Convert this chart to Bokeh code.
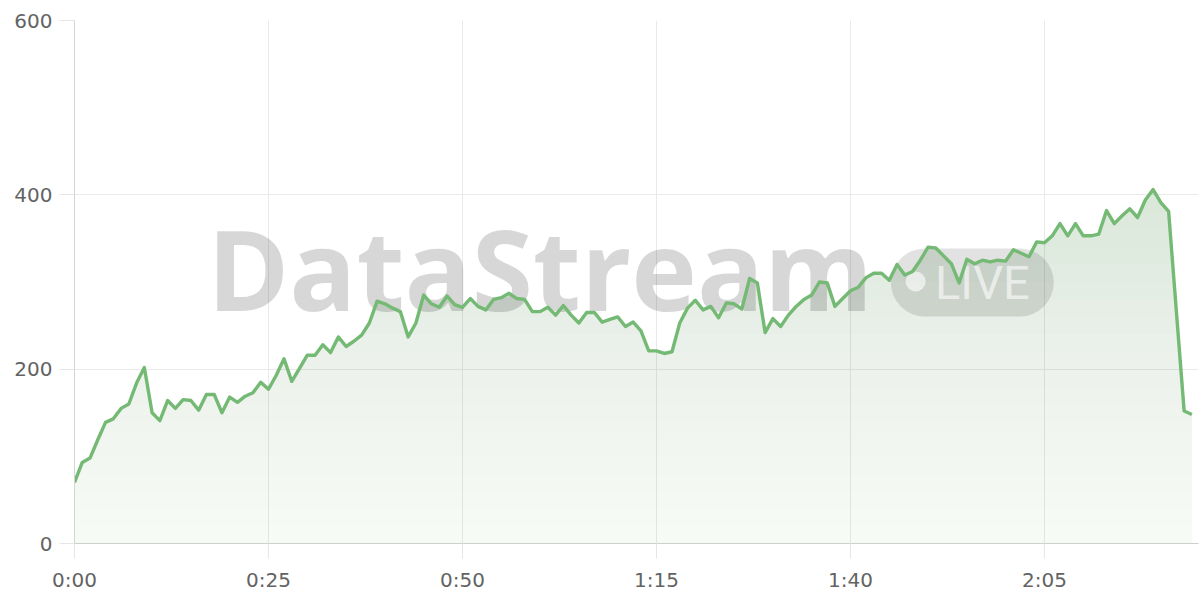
import numpy as np
from bokeh.plotting import figure
from bokeh.models import Range1d, FixedTicker
from bokeh.core.properties import value
from bokeh.embed import file_html
from bokeh.resources import INLINE

# ---- data (one value per minute) ----
minutes = list(range(145))
values = [
    70, 93, 98, 119, 139, 143, 155, 160, 184, 202,
    150, 141, 164, 155, 165, 164, 153, 171, 171, 150,
    168, 162, 169, 173, 185, 177, 193, 212, 186, 201,
    216, 216, 228, 219, 237, 226, 232, 239, 253, 278,
    275, 270, 266, 237, 253, 285, 275, 271, 284, 274,
    271, 281, 272, 268, 280, 282, 287, 281, 280, 266,
    266, 271, 262, 273, 262, 253, 265, 265, 254, 257,
    260, 249, 254, 244, 221, 221, 218, 220, 253, 270,
    279, 268, 272, 259, 276, 275, 269, 304, 299, 242,
    258, 249, 262, 272, 280, 285, 300, 299, 272, 281,
    290, 294, 305, 310, 310, 302, 320, 308, 312, 325,
    340, 339, 330, 321, 299, 326, 321, 325, 323, 325,
    324, 337, 333, 329, 346, 345, 353, 367, 353, 367,
    353, 353, 355, 382, 367, 376, 384, 374, 394, 406,
    391, 381, 266, 152, 148,
]
x_ticks = [0, 25, 50, 75, 100, 125]
x_tick_labels = ["0:00", "0:25", "0:50", "1:15", "1:40", "2:05"]
y_ticks = [0, 200, 400, 600]

GREEN = (115, 185, 115)
FONT = "DejaVu Sans"

p = figure(width=1200, height=600, x_range=Range1d(0, 144.85), y_range=Range1d(0, 600),
           output_backend="svg", toolbar_location=None,
           min_border_left=74, min_border_right=2, min_border_top=20, min_border_bottom=57)
p.outline_line_color = None
p.background_fill_color = "white"
p.border_fill_color = "white"

# ---- gradient area fill (stacked layers) ----
xa = np.array(minutes, dtype=float)
ya = np.array(values, dtype=float)

def layer(h):
    xs, ys = [], []
    for j in range(len(xa) - 1):
        xs.append(xa[j]); ys.append(ya[j])
        if (ya[j] - h) * (ya[j + 1] - h) < 0:
            t = (h - ya[j]) / (ya[j + 1] - ya[j])
            xs.append(xa[j] + t * (xa[j + 1] - xa[j])); ys.append(h)
    xs.append(xa[-1]); ys.append(ya[-1])
    return np.array(xs), np.maximum(np.array(ys), h)

def cov(v):
    return 0.06 + 0.00042 * v

levels = list(range(0, 420, 20))
prev = 0.0
for h in levels:
    c = cov(h + 10)
    a = 1 - (1 - c) / (1 - prev)
    prev = c
    xs, y2 = layer(h)
    p.varea(x=xs, y1=h, y2=y2, fill_color=GREEN, fill_alpha=a)

# ---- watermark ----
p.text(x=[17.1], y=[316], text=["DataStream"], text_font=value("Open Sans"),
       text_font_style="bold", text_font_size="111px", text_color="black", text_alpha=0.155,
       text_baseline="alphabetic", text_align="left")
p.quad(left=[105.2], right=[126.2], bottom=[260.4], top=[338.4], border_radius=34,
       fill_color="black", fill_alpha=0.115, line_color=None)
p.scatter(x=[108.4], y=[300.6], size=20, marker="circle", fill_color="white",
          fill_alpha=0.6, line_color=None)
p.text(x=[110.9], y=[299], text=["LIVE"], text_font=value("Roboto"),
       text_font_size="47px", text_color="white", text_alpha=0.6,
       text_baseline="alphabetic", text_align="left")

# ---- line ----
p.line(minutes, values, line_color="#74b974", line_width=3.4, line_join="round")

# ---- axes & grid ----
xa_ax = p.xaxis[0]
xa_ax.ticker = FixedTicker(ticks=x_ticks)
xa_ax.major_label_overrides = {t: l for t, l in zip(x_ticks, x_tick_labels)}
ya_ax = p.yaxis[0]
ya_ax.ticker = FixedTicker(ticks=y_ticks)

for ax in (xa_ax, ya_ax):
    ax.major_tick_in = 0
    ax.major_tick_out = 15
    ax.minor_tick_line_color = None
    ax.major_tick_line_color = "#e6e6e6"
    ax.major_label_text_font = FONT
    ax.major_label_text_font_size = "20px"
    ax.major_label_text_color = "#636363"
xa_ax.axis_line_color = "#cfcfcf"
ya_ax.axis_line_color = "#d4d4d4"
xa_ax.major_label_standoff = 9
ya_ax.major_label_standoff = 7

p.xgrid.ticker = FixedTicker(ticks=x_ticks)
p.ygrid.ticker = FixedTicker(ticks=y_ticks)
p.grid.grid_line_color = "#e9e9e9"
p.grid.grid_line_width = 1

open("out.html", "w").write(file_html(p, INLINE))
